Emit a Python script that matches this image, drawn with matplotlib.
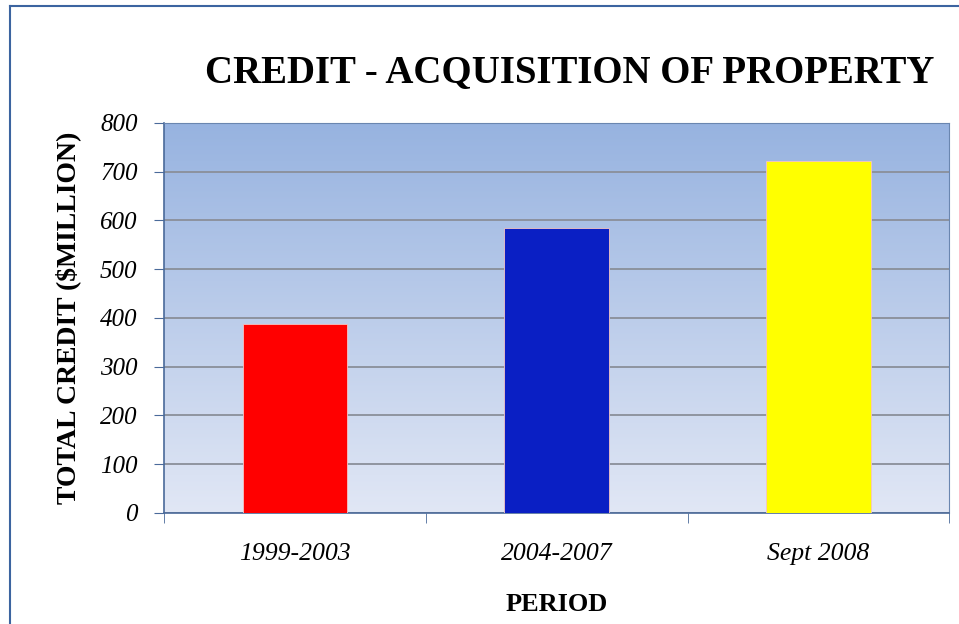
import matplotlib.pyplot as plt
import numpy as np
from matplotlib.lines import Line2D

# chart data
periods = ['1999-2003', '2004-2007', 'Sept 2008']
credit = [388, 585, 722]
bar_colors = ['#ff0000', '#0a1fc4', '#ffff00']
y_ticks = [0, 100, 200, 300, 400, 500, 600, 700, 800]

serif = ['Liberation Serif', 'DejaVu Serif']

fig = plt.figure(figsize=(9.59, 6.24), dpi=100)
ax = fig.add_axes([0.171, 0.178, 0.819, 0.625])

# gradient background of the plot area
grad = np.linspace(0, 1, 256).reshape(-1, 1)
top = np.array([0x97, 0xb3, 0xe0]) / 255
bottom = np.array([0xe1, 0xe7, 0xf5]) / 255
img = bottom + (top - bottom) * grad
ax.imshow(img[:, None, :].repeat(2, axis=1), extent=[0, 1, 0, 1], origin='lower',
          transform=ax.transAxes, aspect='auto', zorder=0)

x = np.arange(len(periods))
ax.bar(x, credit, width=0.4, color=bar_colors, edgecolor='#f4c4c4', linewidth=0.6, zorder=3)

ax.set_xlim(-0.5, len(periods) - 0.5)
ax.set_ylim(0, 800)
ax.set_yticks(y_ticks)
ax.set_yticklabels([str(v) for v in y_ticks], fontsize=18, fontstyle='italic', family=serif)
ax.set_xticks(x)
ax.set_xticklabels(periods, fontsize=18.5, fontstyle='italic', family=serif)
ax.tick_params(axis='x', length=0, pad=22)
ax.set_xticks(np.arange(-0.5, len(periods)), minor=True)
ax.tick_params(axis='x', which='minor', length=7, color='#4a6a9a', direction='out')
ax.tick_params(axis='y', length=7, color='#4a6a9a', direction='out', pad=12)
ax.grid(axis='y', color='#8a8f99', linewidth=1.3, zorder=1)

for s in ['top', 'right']:
    ax.spines[s].set_color('#6a86b0')
    ax.spines[s].set_linewidth(0.8)
for s in ['left', 'bottom']:
    ax.spines[s].set_color('#4a6a9a')
    ax.spines[s].set_linewidth(1.2)

ax.set_ylabel('TOTAL CREDIT ($MILLION)', fontsize=20, fontweight='bold', family=serif, labelpad=14)
ax.set_xlabel('PERIOD', fontsize=19, fontweight='bold', family=serif, labelpad=20)

fig.text(0.594, 0.883, 'CREDIT - ACQUISITION OF PROPERTY', ha='center', va='center',
         fontsize=28, fontweight='bold', family=serif)

# outer chart border (left and top)
fig.add_artist(Line2D([0.0105, 0.0105], [0, 0.99], color='#3c64a0', linewidth=1.5))
fig.add_artist(Line2D([0.0105, 1.0], [0.99, 0.99], color='#3c64a0', linewidth=1.5))

fig.savefig('out.png', dpi=100)
